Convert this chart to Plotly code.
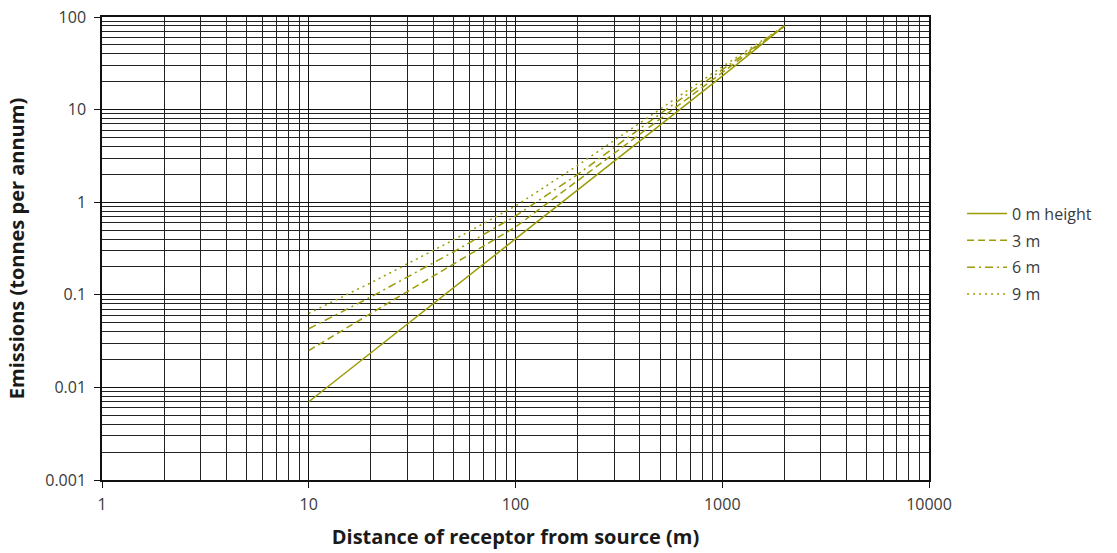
import plotly.graph_objects as go

distance = [10, 20, 50, 100, 200, 500, 1000, 2000]
em_0m = [0.007, 0.0237, 0.119, 0.40, 1.35, 6.8, 23.0, 80]
em_3m = [0.025, 0.063, 0.21, 0.54, 1.71, 7.9, 25.0, 80]
em_6m = [0.043, 0.095, 0.29, 0.71, 2.0, 9.0, 27.0, 80]
em_9m = [0.063, 0.135, 0.39, 0.91, 2.5, 10.1, 29.0, 80]

series_names = ["0 m height", "3 m", "6 m", "9 m"]
x_ticks = [1, 10, 100, 1000, 10000]
x_ticklabels = ["1", "10", "100", "1000", "10000"]
y_ticks = [0.001, 0.01, 0.1, 1, 10, 100]
y_ticklabels = ["0.001", "0.01", "0.1", "1", "10", "100"]

color = "#9c9c08"
dashes = ["solid", "7px,4px", "8px,4px,2px,4px", "2px,4px"]

fig = go.Figure()
for i, (name, ys, d) in enumerate(zip(series_names, [em_0m, em_3m, em_6m, em_9m], dashes)):
    fig.add_trace(go.Scatter(x=distance, y=ys, mode="lines", name=name,
                             legendgroup=f"g{i}",
                             line=dict(color=color, width=1.5, dash=d)))

font_family = "Open Sans, Noto Sans, Arial, sans-serif"
fig.update_layout(
    width=1117, height=553,
    margin=dict(l=102, r=188, t=17, b=73),
    plot_bgcolor="white", paper_bgcolor="white",
    font=dict(family=font_family, size=16, color="#3a3a3a"),
    legend=dict(x=1.04, y=0.612, xanchor="left", yanchor="top",
                font=dict(size=16, color="#3a3a3a"), tracegroupgap=3,
                itemwidth=40, bgcolor="rgba(0,0,0,0)"),
    showlegend=True,
)
fig.update_xaxes(
    type="log", range=[0, 4], automargin=False,
    tickvals=x_ticks, ticktext=x_ticklabels,
    showgrid=True, gridcolor="#111111", gridwidth=1,
    minor=dict(dtick="D1", showgrid=True, gridcolor="#222222", gridwidth=1, ticks=""),
    showline=True, linecolor="#111111", linewidth=1.5, mirror=True,
    ticks="outside", ticklen=6, tickcolor="#111111",
    ticklabelstandoff=3,
    zeroline=False,
    title=dict(text="<b>Distance of receptor from source (m)</b>",
               font=dict(size=20, color="#1a1a1a"), standoff=16),
)
fig.update_yaxes(
    type="log", range=[-3, 2], automargin=False,
    tickvals=y_ticks, ticktext=y_ticklabels,
    showgrid=True, gridcolor="#111111", gridwidth=1,
    minor=dict(dtick="D1", showgrid=True, gridcolor="#222222", gridwidth=1, ticks=""),
    showline=True, linecolor="#111111", linewidth=1.5, mirror=True,
    ticks="outside", ticklen=6, tickcolor="#111111",
    ticklabelstandoff=5,
    zeroline=False,
    title=dict(text="<b>Emissions (tonnes per annum)</b>",
               font=dict(size=20, color="#1a1a1a"), standoff=15),
)

fig.write_html("out.html")
